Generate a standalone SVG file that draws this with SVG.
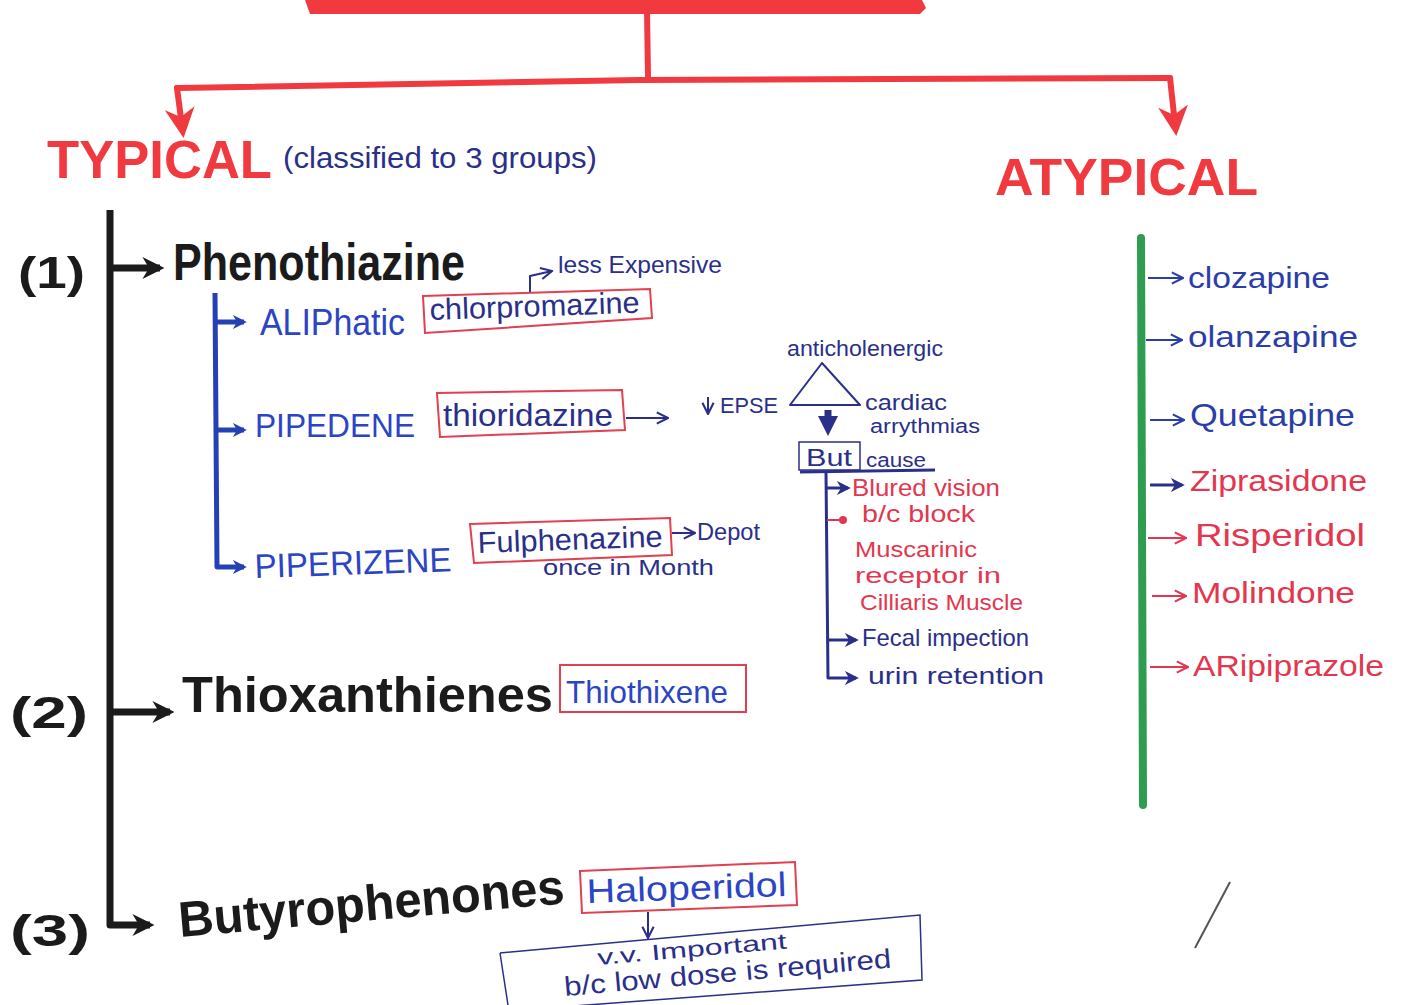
<svg xmlns="http://www.w3.org/2000/svg" width="1405" height="1005" viewBox="0 0 1405 1005">
<defs>
<style>
text{font-family:"Liberation Sans","Noto Sans",Arial,sans-serif;}
.hd{font-weight:bold;fill:#1b1b1b;}
.red{fill:#f03a40;font-weight:bold;}
.blue{fill:#2b45c4;}
.navy{fill:#2a2f8a;}
.pink{fill:#e2374f;}
.box{fill:none;stroke:#e0404f;stroke-width:2;}
.nbox{fill:none;stroke:#2a2f8a;stroke-width:1.5;}
.rl{fill:none;stroke:#f03a40;stroke-width:6;stroke-linecap:round;stroke-linejoin:round;}
.bl{fill:none;stroke:#1b1b1b;stroke-width:7;stroke-linejoin:round;}
.bu{fill:none;stroke:#2540b5;stroke-width:5;stroke-linejoin:round;}
.nv{fill:none;stroke:#2a2f8a;stroke-width:2;stroke-linejoin:round;}
.nvt{fill:none;stroke:#2a2f8a;stroke-width:3;stroke-linejoin:round;}
.gr{fill:none;stroke:#2f9d50;stroke-width:8;stroke-linecap:round;}
</style>
<marker id="ar" viewBox="0 0 10 10" refX="6" refY="5" markerWidth="30" markerHeight="30" markerUnits="userSpaceOnUse" orient="auto"><path d="M0,0 L10,5 L0,10 L3,5 Z" fill="#f03a40"/></marker>
<marker id="ab" viewBox="0 0 10 10" refX="8" refY="5" markerWidth="22" markerHeight="22" markerUnits="userSpaceOnUse" orient="auto"><path d="M0,0 L10,5 L0,10 L3,5 Z" fill="#1b1b1b"/></marker>
<marker id="au" viewBox="0 0 10 10" refX="8" refY="5" markerWidth="14" markerHeight="14" markerUnits="userSpaceOnUse" orient="auto"><path d="M0,0 L10,5 L0,10 L3,5 Z" fill="#2540b5"/></marker>
<marker id="an" viewBox="0 0 10 10" refX="9" refY="5" markerWidth="14" markerHeight="14" markerUnits="userSpaceOnUse" orient="auto"><path d="M1,1 L9,5 L1,9" fill="none" stroke="#2a2f8a" stroke-width="1.5"/></marker>
<marker id="anf" viewBox="0 0 10 10" refX="8" refY="5" markerWidth="14" markerHeight="14" markerUnits="userSpaceOnUse" orient="auto"><path d="M0,0 L10,5 L0,10 L3,5 Z" fill="#2a2f8a"/></marker>
<marker id="ant" viewBox="0 0 10 10" refX="6" refY="5" markerWidth="20" markerHeight="20" markerUnits="userSpaceOnUse" orient="auto"><path d="M0,0 L10,5 L0,10 Z" fill="#2a2f8a"/></marker>
<marker id="apk" viewBox="0 0 10 10" refX="9" refY="5" markerWidth="14" markerHeight="14" markerUnits="userSpaceOnUse" orient="auto"><path d="M1,1 L9,5 L1,9" fill="none" stroke="#e2374f" stroke-width="1.5"/></marker>
<marker id="ablu" viewBox="0 0 10 10" refX="9" refY="5" markerWidth="14" markerHeight="14" markerUnits="userSpaceOnUse" orient="auto"><path d="M1,1 L9,5 L1,9" fill="none" stroke="#2b3ea8" stroke-width="1.5"/></marker>
</defs>
<rect width="1405" height="1005" fill="#ffffff"/>

<g id="connectors">
<path d="M305,0 L922,0 L926,8 L920,14 L310,14 Z" fill="#f03a40"/>
<path class="rl" d="M647,10 L648,76"/>
<path class="rl" d="M177,88 L640,80 L1170,78"/>
<path class="rl" d="M177,88 L182,126" marker-end="url(#ar)"/>
<path class="rl" d="M1170,78 L1175,124" marker-end="url(#ar)"/>
<path class="bl" d="M110,210 L110,925 L150,925" marker-end="url(#ab)"/>
<path class="bl" d="M110,268 L160,268" marker-end="url(#ab)"/>
<path class="bl" d="M110,712 L170,712" marker-end="url(#ab)"/>
<path class="bu" d="M215,293 L217,567 L244,567" marker-end="url(#au)"/>
<path class="bu" d="M217,322 L244,322" marker-end="url(#au)"/>
<path class="bu" d="M217,430 L244,430" marker-end="url(#au)"/>
<path class="nv" d="M530,292 L530,276 L552,271" marker-end="url(#an)"/>
<path class="nv" d="M626,418 L668,418" marker-end="url(#an)"/>
<path class="nv" d="M708,397 L708,414" marker-end="url(#an)"/>
<path class="nv" d="M672,533 L695,533" marker-end="url(#an)"/>
<path class="nv" d="M822,363 L790,405 L860,405 Z"/>
<path d="M828,410 L828,428" stroke="#2a2f8a" stroke-width="7" fill="none" marker-end="url(#ant)"/>
<path class="nvt" d="M800,472 L935,470"/>
<path class="nvt" d="M826,472 L828,678 L856,678" marker-end="url(#anf)"/>
<path class="nvt" d="M826,488 L848,488" marker-end="url(#anf)"/>
<path class="nvt" d="M828,640 L856,640" marker-end="url(#anf)"/>
<path d="M827,520 L843,520" stroke="#e2374f" stroke-width="2" fill="none"/>
<circle cx="843" cy="520" r="4" fill="#e2374f"/>
<path class="nv" d="M648,912 L648,938" marker-end="url(#an)"/>
<path class="gr" d="M1141,238 L1143,805"/>
<path d="M1148,278 L1183,278" stroke="#2b3ea8" stroke-width="2" fill="none" marker-end="url(#ablu)"/>
<path d="M1146,340 L1182,340" stroke="#2b3ea8" stroke-width="2" fill="none" marker-end="url(#ablu)"/>
<path d="M1150,420 L1184,420" stroke="#2b3ea8" stroke-width="2" fill="none" marker-end="url(#ablu)"/>
<path d="M1150,485 L1182,485" stroke="#2a2f8a" stroke-width="3" fill="none" marker-end="url(#anf)"/>
<path d="M1148,538 L1186,538" stroke="#e2374f" stroke-width="2" fill="none" marker-end="url(#apk)"/>
<path d="M1152,596 L1186,596" stroke="#e2374f" stroke-width="2" fill="none" marker-end="url(#apk)"/>
<path d="M1150,667 L1188,667" stroke="#e2374f" stroke-width="2" fill="none" marker-end="url(#apk)"/>
<path d="M1195,948 L1230,882" stroke="#555" stroke-width="2" fill="none"/>
</g>

<g id="typical"><text class="red" x="47" y="178" font-size="54" textLength="225" lengthAdjust="spacingAndGlyphs">TYPICAL</text>
<text class="navy" x="283" y="168" font-size="30" textLength="314" lengthAdjust="spacingAndGlyphs">(classified to 3 groups)</text></g>
<g id="atypical"><text class="red" x="995" y="195" font-size="52" textLength="263" lengthAdjust="spacingAndGlyphs">ATYPICAL</text></g>

<g id="phenothiazine">
<text class="hd" x="18" y="288" font-size="44" textLength="67" lengthAdjust="spacingAndGlyphs">(1)</text>
<text class="hd" x="173" y="280" font-size="52" textLength="292" lengthAdjust="spacingAndGlyphs">Phenothiazine</text>
</g>
<g id="aliphatic">
<text class="blue" x="260" y="335" font-size="36" textLength="145" lengthAdjust="spacingAndGlyphs">ALIPhatic</text>
<path class="box" d="M423,296 L650,289 L652,318 L425,333 Z"/>
<text class="navy" x="430" y="320" font-size="30" textLength="210" lengthAdjust="spacingAndGlyphs" transform="rotate(-2 430 320)">chlorpromazine</text>
<text class="navy" x="558" y="273" font-size="24" textLength="164" lengthAdjust="spacingAndGlyphs">less Expensive</text>
</g>
<g id="pipedene">
<text class="blue" x="255" y="437" font-size="34" textLength="160" lengthAdjust="spacingAndGlyphs">PIPEDENE</text>
<path class="box" d="M437,393 L622,390 L625,430 L440,437 Z"/>
<text class="navy" x="443" y="426" font-size="32" textLength="170" lengthAdjust="spacingAndGlyphs">thioridazine</text>
</g>
<g id="side-effects">
<text class="navy" x="720" y="413" font-size="22" textLength="58" lengthAdjust="spacingAndGlyphs">EPSE</text>
<text class="navy" x="787" y="356" font-size="22" textLength="156" lengthAdjust="spacingAndGlyphs">anticholenergic</text>
<text class="navy" x="865" y="410" font-size="22" textLength="82" lengthAdjust="spacingAndGlyphs">cardiac</text>
<text class="navy" x="870" y="433" font-size="20" textLength="110" lengthAdjust="spacingAndGlyphs">arrythmias</text>
</g>
<g id="but">
<rect class="nbox" x="799" y="442" width="61" height="28"/>
<text class="navy" x="806" y="466" font-size="24" textLength="46" lengthAdjust="spacingAndGlyphs">But</text>
<text class="navy" x="866" y="467" font-size="20" textLength="60" lengthAdjust="spacingAndGlyphs">cause</text>
</g>
<g id="blurred-vision">
<text class="pink" x="852" y="496" font-size="24" textLength="148" lengthAdjust="spacingAndGlyphs">Blured vision</text>
<text class="pink" x="862" y="522" font-size="24" textLength="113" lengthAdjust="spacingAndGlyphs">b/c block</text>
<text class="pink" x="855" y="557" font-size="22" textLength="122" lengthAdjust="spacingAndGlyphs">Muscarinic</text>
<text class="pink" x="855" y="583" font-size="22" textLength="146" lengthAdjust="spacingAndGlyphs">receptor in</text>
<text class="pink" x="860" y="610" font-size="22" textLength="163" lengthAdjust="spacingAndGlyphs">Cilliaris Muscle</text>
</g>
<g id="fecal"><text class="navy" x="862" y="646" font-size="24" textLength="167" lengthAdjust="spacingAndGlyphs">Fecal impection</text></g>
<g id="urine"><text class="navy" x="868" y="684" font-size="24" textLength="176" lengthAdjust="spacingAndGlyphs">urin retention</text></g>

<g id="piperizene">
<text class="blue" x="255" y="578" font-size="34" textLength="197" lengthAdjust="spacingAndGlyphs" transform="rotate(-2 255 578)">PIPERIZENE</text>
<path class="box" d="M470,524 L670,518 L672,555 L474,563 Z"/>
<text class="navy" x="478" y="553" font-size="30" textLength="185" lengthAdjust="spacingAndGlyphs" transform="rotate(-2 478 553)">Fulphenazine</text>
<text class="navy" x="697" y="540" font-size="24" textLength="63" lengthAdjust="spacingAndGlyphs">Depot</text>
<text class="navy" x="543" y="575" font-size="22" textLength="171" lengthAdjust="spacingAndGlyphs">once in Month</text>
</g>

<g id="thioxanthienes">
<text class="hd" x="10" y="728" font-size="44" textLength="78" lengthAdjust="spacingAndGlyphs">(2)</text>
<text class="hd" x="182" y="712" font-size="50" textLength="371" lengthAdjust="spacingAndGlyphs">Thioxanthienes</text>
<rect class="box" x="560" y="665" width="186" height="47"/>
<text class="blue" x="566" y="703" font-size="32" textLength="162" lengthAdjust="spacingAndGlyphs">Thiothixene</text>
</g>

<g id="butyrophenones">
<text class="hd" x="10" y="946" font-size="44" textLength="80" lengthAdjust="spacingAndGlyphs">(3)</text>
<text class="hd" x="180" y="937" font-size="50" textLength="387" lengthAdjust="spacingAndGlyphs" transform="rotate(-5 180 937)">Butyrophenones</text>
<path class="box" d="M580,871 L795,862 L797,905 L582,913 Z"/>
<text class="blue" x="587" y="903" font-size="34" textLength="200" lengthAdjust="spacingAndGlyphs" transform="rotate(-2 587 903)">Haloperidol</text>
</g>
<g id="note">
<path class="nbox" d="M500,953 L920,915 L922,980 L520,1010 M500,953 L508,1005"/>
<text class="navy" x="598" y="965" font-size="22" textLength="190" lengthAdjust="spacingAndGlyphs" transform="rotate(-5 598 965)">v.v. Important</text>
<text class="navy" x="565" y="996" font-size="27" textLength="328" lengthAdjust="spacingAndGlyphs" transform="rotate(-5 565 996)">b/c low dose is required</text>
</g>

<g id="clozapine"><text fill="#2b3ea8" x="1188" y="288" font-size="30" textLength="142" lengthAdjust="spacingAndGlyphs">clozapine</text></g>
<g id="olanzapine"><text fill="#2b3ea8" x="1188" y="347" font-size="30" textLength="170" lengthAdjust="spacingAndGlyphs">olanzapine</text></g>
<g id="quetapine"><text fill="#2b3ea8" x="1190" y="426" font-size="32" textLength="165" lengthAdjust="spacingAndGlyphs">Quetapine</text></g>
<g id="ziprasidone"><text class="pink" x="1190" y="491" font-size="30" textLength="177" lengthAdjust="spacingAndGlyphs">Ziprasidone</text></g>
<g id="risperidol"><text class="pink" x="1195" y="546" font-size="32" textLength="170" lengthAdjust="spacingAndGlyphs">Risperidol</text></g>
<g id="molindone"><text class="pink" x="1192" y="603" font-size="30" textLength="163" lengthAdjust="spacingAndGlyphs">Molindone</text></g>
<g id="aripiprazole"><text class="pink" x="1193" y="676" font-size="30" textLength="191" lengthAdjust="spacingAndGlyphs">ARipiprazole</text></g>
</svg>
